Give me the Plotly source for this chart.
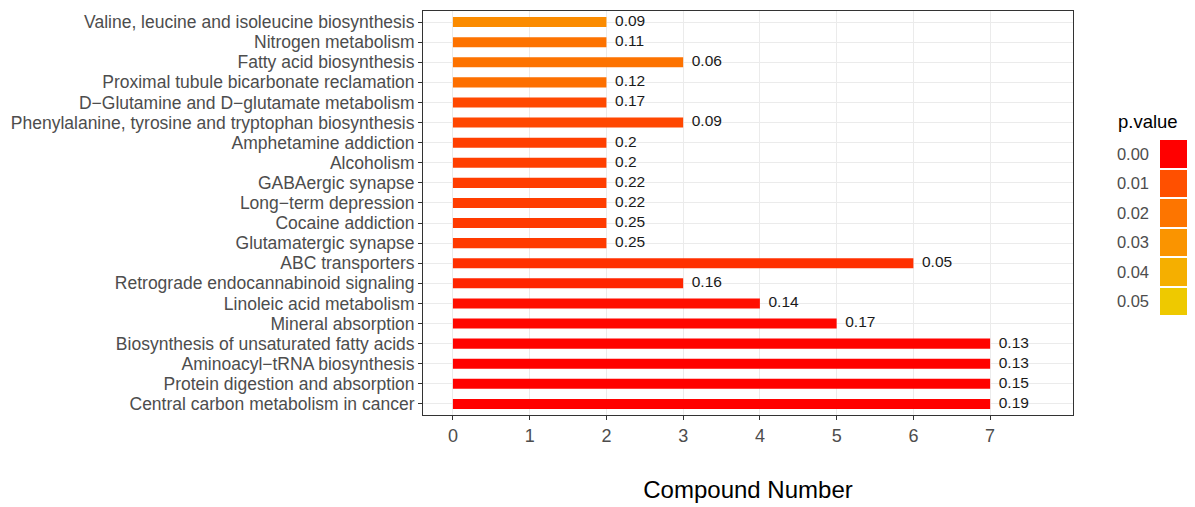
import plotly.graph_objects as go

# ---- data (bottom to top) ----
pathways = [
    "Central carbon metabolism in cancer",
    "Protein digestion and absorption",
    "Aminoacyl\u2212tRNA biosynthesis",
    "Biosynthesis of unsaturated fatty acids",
    "Mineral absorption",
    "Linoleic acid metabolism",
    "Retrograde endocannabinoid signaling",
    "ABC transporters",
    "Glutamatergic synapse",
    "Cocaine addiction",
    "Long\u2212term depression",
    "GABAergic synapse",
    "Alcoholism",
    "Amphetamine addiction",
    "Phenylalanine, tyrosine and tryptophan biosynthesis",
    "D\u2212Glutamine and D\u2212glutamate metabolism",
    "Proximal tubule bicarbonate reclamation",
    "Fatty acid biosynthesis",
    "Nitrogen metabolism",
    "Valine, leucine and isoleucine biosynthesis",
]
compound_number = [7, 7, 7, 7, 5, 4, 3, 6, 2, 2, 2, 2, 2, 2, 3, 2, 2, 3, 2, 2]
bar_labels = ["0.19", "0.15", "0.13", "0.13", "0.17", "0.14", "0.16", "0.05",
              "0.25", "0.25", "0.22", "0.22", "0.2", "0.2", "0.09", "0.17",
              "0.12", "0.06", "0.11", "0.09"]
p_value = [0.0001, 0.0001, 0.0001, 0.0002, 0.0005, 0.001, 0.0025, 0.004,
           0.0055, 0.0055, 0.006, 0.006, 0.0065, 0.0065, 0.008, 0.0085,
           0.018, 0.019, 0.019, 0.027]
legend_breaks = [0.00, 0.01, 0.02, 0.03, 0.04, 0.05]
legend_labels = ["0.00", "0.01", "0.02", "0.03", "0.04", "0.05"]

# ---- colour scale: Lab interpolation red -> gold2 (like ggplot) ----
def srgb_to_lab(h):
    r, g, b = [int(h[i:i + 2], 16) / 255 for i in (1, 3, 5)]
    lin = [((c + 0.055) / 1.055) ** 2.4 if c > 0.04045 else c / 12.92 for c in (r, g, b)]
    X = 0.4124 * lin[0] + 0.3576 * lin[1] + 0.1805 * lin[2]
    Y = 0.2126 * lin[0] + 0.7152 * lin[1] + 0.0722 * lin[2]
    Z = 0.0193 * lin[0] + 0.1192 * lin[1] + 0.9505 * lin[2]
    def f(t):
        return t ** (1 / 3) if t > 0.008856 else 7.787 * t + 16 / 116
    fx, fy, fz = f(X / 0.95047), f(Y), f(Z / 1.08883)
    return (116 * fy - 16, 500 * (fx - fy), 200 * (fy - fz))

def lab_to_hex(L, a, bb):
    fy = (L + 16) / 116
    fx = fy + a / 500
    fz = fy - bb / 200
    def finv(t):
        return t ** 3 if t > 0.206893 else (t - 16 / 116) / 7.787
    X, Y, Z = 0.95047 * finv(fx), finv(fy), 1.08883 * finv(fz)
    r = 3.2406 * X - 1.5372 * Y - 0.4986 * Z
    g = -0.9689 * X + 1.8758 * Y + 0.0415 * Z
    b = 0.0557 * X - 0.2040 * Y + 1.0570 * Z
    out = []
    for c in (r, g, b):
        c = max(0.0, min(1.0, c))
        c = 1.055 * c ** (1 / 2.4) - 0.055 if c > 0.0031308 else 12.92 * c
        out.append(int(round(max(0, min(1, c)) * 255)))
    return "#%02X%02X%02X" % tuple(out)

lo, hi = srgb_to_lab("#FF0000"), srgb_to_lab("#EEC900")
n = 20
colorscale = []
for i in range(n + 1):
    t = i / n
    colorscale.append([t, lab_to_hex(*[lo[k] + (hi[k] - lo[k]) * t for k in range(3)])])

CMIN, CMAX = 0.0, 0.05

# layout geometry (pixels, page body has an 8px margin)
OFF = 8
W, H = 1195 - OFF, 507 - OFF
ML, MT = 423 - OFF, 11 - OFF
PLOT_H = 404
MB = H - MT - PLOT_H
MR = 5
PW = W - ML - MR
main_w = 650

def px(xpix):
    return (xpix - OFF - ML) / PW

def py(ypix):
    return (MT + PLOT_H - (ypix - OFF)) / PLOT_H

FONT = "Liberation Sans, Arial"

fig = go.Figure()
fig.add_trace(go.Bar(
    y=pathways, x=compound_number, orientation="h", width=0.5,
    marker=dict(color=p_value, colorscale=colorscale, cmin=CMIN, cmax=CMAX,
                line=dict(width=0)),
    showlegend=False, hoverinfo="x+y",
))
fig.add_trace(go.Scatter(
    y=pathways, x=compound_number, mode="text",
    text=["  " + s for s in bar_labels], textposition="middle right",
    textfont=dict(family=FONT, size=15.5, color="#1A1A1A"),
    showlegend=False, hoverinfo="skip", cliponaxis=False,
))
# legend as heatmap key
fig.add_trace(go.Heatmap(
    z=[[v] for v in legend_breaks], y=legend_labels, x=[0],
    colorscale=colorscale, zmin=CMIN, zmax=CMAX, showscale=False,
    xaxis="x2", yaxis="y2", ygap=2, hoverinfo="skip",
))

axis_font = dict(family=FONT, color="#4D4D4D")
fig.update_layout(
    width=W, height=H,
    margin=dict(l=ML, r=MR, t=MT, b=MB, autoexpand=False),
    paper_bgcolor="white", plot_bgcolor="white",
    font=dict(family=FONT),
    xaxis=dict(
        domain=[0, main_w / PW],
        range=[-0.39, 8.08], tickvals=[0, 1, 2, 3, 4, 5, 6, 7],
        tickfont=dict(size=18, **axis_font),
        showgrid=True, gridcolor="#EBEBEB", gridwidth=1,
        zeroline=False, ticks="outside", ticklen=4, tickcolor="#333333",
        showline=True, linecolor="#333333", linewidth=1, mirror=True,
        title=dict(text="Compound Number", font=dict(size=24, color="black"),
                   standoff=36),
    ),
    yaxis=dict(
        type="category", categoryorder="array", categoryarray=pathways,
        tickmode="array", tickvals=pathways, ticktext=pathways,
        range=[-0.55, 19.55],
        tickfont=dict(size=17.5, **axis_font),
        showgrid=True, gridcolor="#EBEBEB", gridwidth=1,
        ticks="outside", ticklen=4, tickcolor="#333333",
        showline=True, linecolor="#333333", linewidth=1, mirror=True,
    ),
    xaxis2=dict(domain=[px(1160), px(1189)], anchor="y2", showticklabels=False,
                showgrid=False, zeroline=False, showline=False, ticks="",
                fixedrange=True),
    yaxis2=dict(domain=[py(316), py(139)], anchor="x2", autorange="reversed",
                type="category", showgrid=False, zeroline=False, showline=False,
                ticks="", ticklabelstandoff=10,
                tickfont=dict(size=16.5, **axis_font), fixedrange=True),
    annotations=[dict(
        text="p.value", xref="paper", yref="paper", x=px(1116), y=py(121),
        xanchor="left", yanchor="middle", showarrow=False,
        font=dict(size=18.5, color="black", family=FONT),
    )],
)
fig.write_html("out.html")
